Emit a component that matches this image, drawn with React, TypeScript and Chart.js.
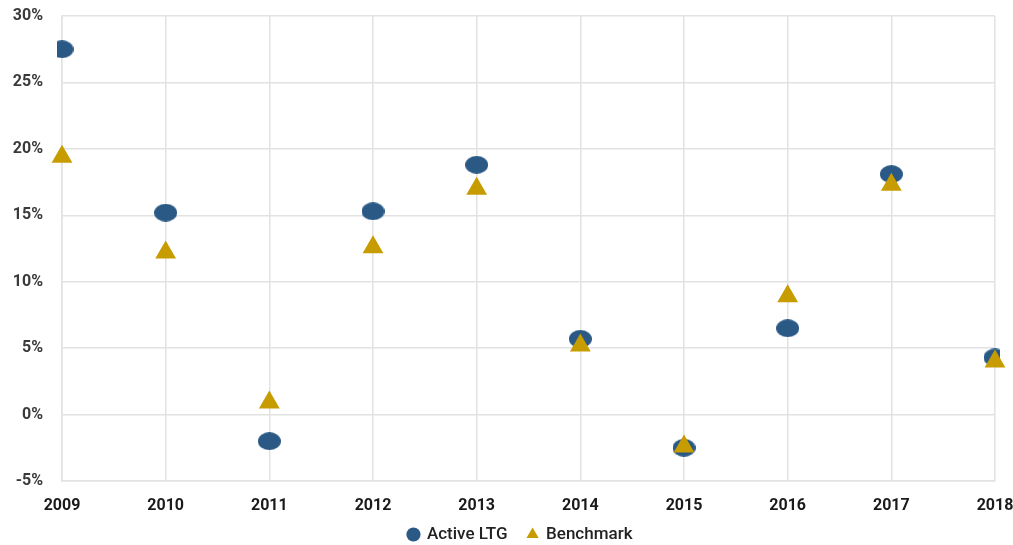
import React, { useEffect, useRef } from "react";
import { Chart, registerables } from "chart.js";

Chart.register(...registerables);

const years = ["2009", "2010", "2011", "2012", "2013", "2014", "2015", "2016", "2017", "2018"];
const activeLTG = [27.5, 15.2, -2.0, 15.3, 18.8, 5.7, -2.5, 6.5, 18.1, 4.3];
const benchmark = [19.4, 12.2, 0.9, 12.6, 17.0, 5.2, -2.4, 8.9, 17.3, 4.0];

const BLUE = "#2a5986";
const GOLD = "#c79c00";

function makeEllipse(w: number, h: number, color: string) {
  const c = document.createElement("canvas");
  c.width = w;
  c.height = h;
  const ctx = c.getContext("2d")!;
  ctx.fillStyle = color;
  ctx.beginPath();
  ctx.ellipse(w / 2, h / 2, w / 2, h / 2, 0, 0, Math.PI * 2);
  ctx.fill();
  return c;
}

const legendShift = {
  id: "legendShift",
  afterLayout(chart: any) {
    const l = chart.legend;
    if (!l) return;
    l.top -= 9;
    l.bottom -= 9;
    l.left -= 8;
    l.right -= 8;
  },
};

export default function App() {
  const ref = useRef<HTMLCanvasElement>(null);
  useEffect(() => {
    const ellipse = makeEllipse(23, 18, BLUE);
    const chart = new Chart(ref.current!, {
      type: "line",
      data: {
        labels: years,
        datasets: [
          {
            label: "Active LTG",
            data: activeLTG,
            showLine: false,
            pointStyle: ellipse as any,
            backgroundColor: BLUE,
            borderColor: BLUE,
            order: 1,
          },
          {
            label: "Benchmark",
            data: benchmark,
            showLine: false,
            pointStyle: "triangle",
            pointRadius: 12,
            pointHoverRadius: 12,
            pointBorderWidth: 0,
            backgroundColor: GOLD,
            borderColor: GOLD,
            order: 0,
          },
        ],
      },
      plugins: [legendShift],
      options: {
        animation: false,
        responsive: false,
        layout: { padding: { left: 0, right: 18, top: 16, bottom: -17 } },
        scales: {
          x: {
            offset: false,
            grid: { color: "#e2e2e2", lineWidth: 1.5, drawTicks: false },
            border: { color: "#e2e2e2", width: 1.5 },
            ticks: {
              color: "#1a1a1a",
              font: { family: "Roboto", size: 16, weight: "bold" },
              padding: 15,
              maxRotation: 0,
            },
            afterFit: (s: any) => {
              s.paddingLeft = 0;
              s.paddingRight = 0;
              s.height = 34;
            },
          },
          y: {
            min: -5,
            max: 30,
            grid: { color: "#e2e2e2", lineWidth: 1.5, drawTicks: false },
            border: { color: "#e2e2e2", width: 1.5 },
            ticks: {
              stepSize: 5,
              color: "#3a3a3a",
              font: { family: "Roboto", size: 16, weight: "bold" },
              padding: 19,
              callback: (v: any) => v + "%",
            },
            afterFit: (s: any) => {
              s.width = 62;
              s.paddingTop = 0;
              s.paddingBottom = 0;
            },
          },
        },
        plugins: {
          tooltip: { enabled: false },
          legend: {
            position: "bottom",
            fullSize: false,
            labels: {
              usePointStyle: true,
              boxWidth: 10,
              boxHeight: 10,
              padding: 20,
              color: "#222",
              font: { family: "Roboto", size: 17, weight: 500 as any },
              sort: (a: any, b: any) => a.datasetIndex - b.datasetIndex,
              generateLabels: (ch: any) => {
                const items = Chart.defaults.plugins.legend.labels.generateLabels(ch);
                return items.map((it: any) => ({
                  ...it,
                  pointStyle: it.datasetIndex === 0 ? "circle" : "triangle",
                  lineWidth: 0,
                }));
              },
            },
          },
        },
      },
    });
    return () => chart.destroy();
  }, []);
  return (
    <div style={{ position: "fixed", left: 0, top: 0, width: 1013, height: 545, background: "#fff" }}>
      <canvas ref={ref} width={1013} height={545} />
    </div>
  );
}
